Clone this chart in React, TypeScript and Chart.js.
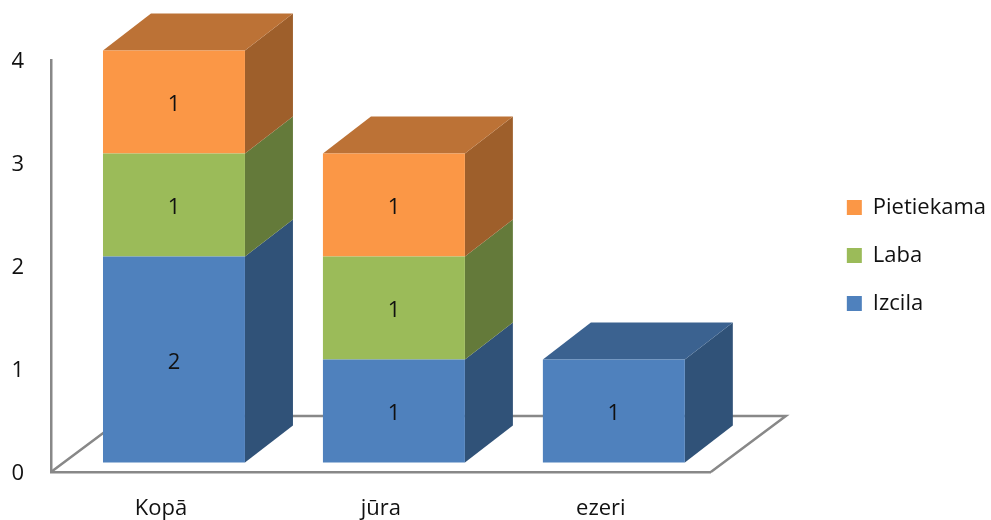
import React, { useEffect, useRef } from "react";
import { Chart, registerables, layouts } from "chart.js";

Chart.register(...registerables);

const categories = ["Kopā", "jūra", "ezeri"];
const izcila = [2, 1, 1];
const laba = [1, 1, null];
const pietiekama = [1, 1, null];

const FONT = "'Open Sans'";
const FONT_SIZE = 22;
const AXIS_COLOR = "#888888";
const front = ["#4F81BD", "#9BBB59", "#FB9746"];
const side = ["#305278", "#647A3A", "#9E5F2B"];
const top = ["#3B6290", "#7A9447", "#BC7236"];

const BAR_SHIFT = { x: 13, y: -9.5 };
const BAR_DEPTH = { x: 48, y: -37 };
const FLOOR_DEPTH = { x: 75, y: -56 };

const makeSpacer = (position: string, size: number) => ({
  position,
  weight: 100,
  fullSize: false,
  options: {},
  left: 0, top: 0, right: 0, bottom: 0, width: 0, height: 0,
  isHorizontal: () => position === "top",
  update(this: any, w: number, h: number) {
    this.width = position === "top" ? w : size;
    this.height = position === "top" ? size : h;
  },
  draw() {},
});

const spacer = {
  id: "spacer",
  beforeInit(chart: any) {
    layouts.addBox(chart, makeSpacer("right", 110) as any);
    layouts.addBox(chart, makeSpacer("top", 60) as any);
  },
};

const faces = {
  id: "faces",
  beforeDatasetsDraw(chart: any) {
    const { ctx, chartArea: a } = chart;
    ctx.save();
    ctx.strokeStyle = AXIS_COLOR;
    ctx.lineWidth = 2.5;
    ctx.beginPath();
    ctx.moveTo(a.left, a.bottom);
    ctx.lineTo(a.left + FLOOR_DEPTH.x, a.bottom + FLOOR_DEPTH.y);
    ctx.lineTo(a.right + FLOOR_DEPTH.x, a.bottom + FLOOR_DEPTH.y);
    ctx.lineTo(a.right, a.bottom);
    ctx.stroke();
    ctx.restore();

    ctx.save();
    ctx.translate(BAR_SHIFT.x, BAR_SHIFT.y);
    const n = chart.data.labels.length;
    for (let j = 0; j < n; j++) {
      let topMost: any = null;
      let topDs = 0;
      chart.data.datasets.forEach((ds: any, i: number) => {
        if (ds.data[j] == null) return;
        const el = chart.getDatasetMeta(i).data[j];
        const right = el.x + el.width / 2;
        ctx.fillStyle = side[i];
        ctx.beginPath();
        ctx.moveTo(right, el.y);
        ctx.lineTo(right + BAR_DEPTH.x, el.y + BAR_DEPTH.y);
        ctx.lineTo(right + BAR_DEPTH.x, el.base + BAR_DEPTH.y);
        ctx.lineTo(right, el.base);
        ctx.closePath();
        ctx.fill();
        topMost = el;
        topDs = i;
      });
      if (topMost) {
        const l = topMost.x - topMost.width / 2;
        const r = topMost.x + topMost.width / 2;
        const y = topMost.y;
        ctx.fillStyle = top[topDs];
        ctx.beginPath();
        ctx.moveTo(l, y);
        ctx.lineTo(l + BAR_DEPTH.x, y + BAR_DEPTH.y);
        ctx.lineTo(r + BAR_DEPTH.x, y + BAR_DEPTH.y);
        ctx.lineTo(r, y);
        ctx.closePath();
        ctx.fill();
      }
    }
  },
  afterDatasetsDraw(chart: any) {
    const { ctx } = chart;
    ctx.font = `${FONT_SIZE}px ${FONT}`;
    ctx.fillStyle = "#111111";
    ctx.textAlign = "center";
    ctx.textBaseline = "middle";
    chart.data.datasets.forEach((ds: any, i: number) => {
      chart.getDatasetMeta(i).data.forEach((el: any, j: number) => {
        if (ds.data[j] == null) return;
        ctx.fillText(String(ds.data[j]), el.x, (el.y + el.base) / 2 + 3);
      });
    });
    ctx.restore();
  },
};

export default function App() {
  const ref = useRef<HTMLCanvasElement>(null);
  useEffect(() => {
    const dataset = (label: string, data: any[], i: number) => ({
      label,
      data,
      backgroundColor: front[i],
      borderWidth: 0,
      barPercentage: 1,
      categoryPercentage: 142 / 220,
      clip: false as any,
    });
    const chart = new Chart(ref.current!, {
      type: "bar",
      data: {
        labels: categories,
        datasets: [
          dataset("Izcila", izcila, 0),
          dataset("Laba", laba, 1),
          dataset("Pietiekama", pietiekama, 2),
        ],
      },
      plugins: [spacer, faces],
      options: {
        responsive: false,
        devicePixelRatio: 1,
        animation: false,
        layout: { padding: { top: 0, left: 0, right: 6, bottom: 9 } },
        plugins: {
          tooltip: { enabled: false },
          legend: {
            position: "right",
            reverse: true,
            labels: {
              boxWidth: 15,
              boxHeight: 15,
              padding: 26,
              color: "#111111",
              font: { family: FONT, size: FONT_SIZE },
            },
          },
        },
        scales: {
          x: {
            stacked: true,
            grid: { display: false, drawTicks: false },
            border: { display: true, color: AXIS_COLOR, width: 2.5 },
            ticks: { color: "#111111", padding: 24, font: { family: FONT, size: FONT_SIZE } },
            afterFit: (s: any) => {
              s.height = 39;
              s._computeLabelArea = () => undefined;
            },
          },
          y: {
            stacked: true,
            min: 0,
            max: 4,
            grid: { display: false, drawTicks: false },
            border: { display: true, color: AXIS_COLOR, width: 2.5 },
            ticks: { stepSize: 1, color: "#111111", padding: 27, labelOffset: 2, font: { family: FONT, size: FONT_SIZE } },
            afterFit: (s: any) => { s.width = 51; },
          },
        },
      },
    } as any);
    return () => chart.destroy();
  }, []);
  return (
    <div style={{ position: "fixed", left: 0, top: 0, width: 991, height: 520, background: "#fff" }}>
      <canvas ref={ref} width={991} height={520} style={{ display: "block" }} />
    </div>
  );
}
